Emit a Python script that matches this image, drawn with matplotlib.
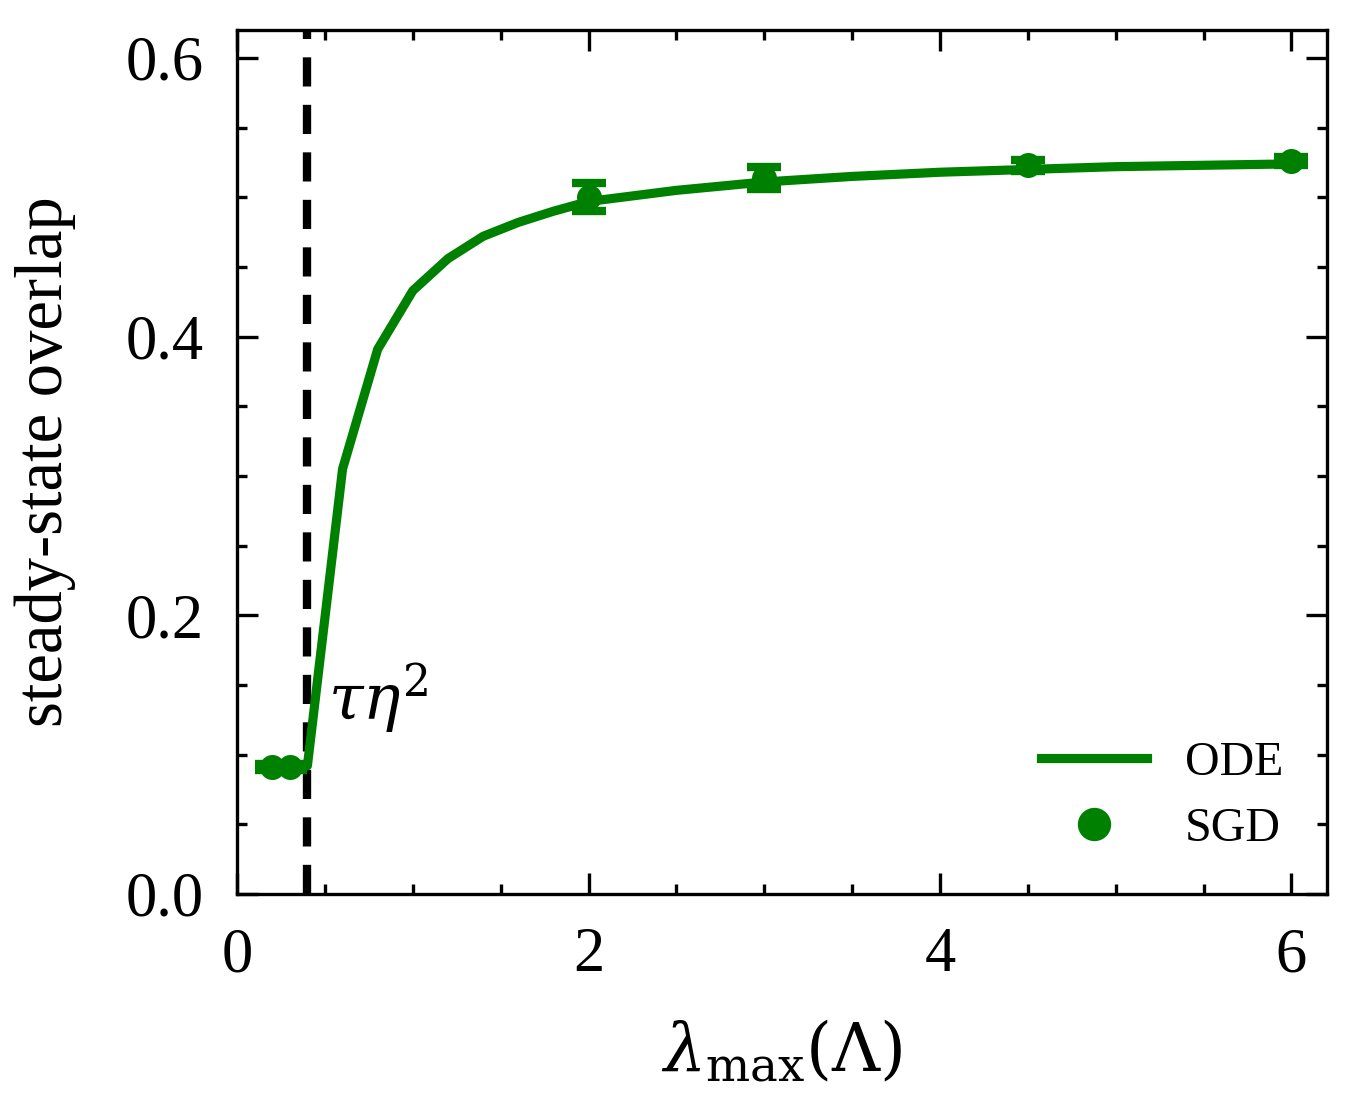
import numpy as np
import matplotlib
matplotlib.use("Agg")
import matplotlib.pyplot as plt
from matplotlib.ticker import MultipleLocator
from matplotlib.lines import Line2D

# data
ode_x = [0.2, 0.4, 0.6, 0.8, 1.0, 1.2, 1.4, 1.6, 1.8, 2.0, 2.5, 3.0, 3.5, 4.0, 4.5, 5.0, 5.5, 6.0]
ode_y = [0.091, 0.092, 0.305, 0.391, 0.433, 0.456, 0.472, 0.482, 0.490, 0.497,
         0.505, 0.511, 0.515, 0.518, 0.520, 0.522, 0.523, 0.524]

sgd_x = [0.2, 0.3, 2.0, 3.0, 4.5, 6.0]
sgd_y = [0.091, 0.091, 0.500, 0.514, 0.523, 0.526]
sgd_err = [0.002, 0.002, 0.010, 0.008, 0.004, 0.003]

threshold = 0.4

plt.rcParams["font.family"] = ["Liberation Serif", "DejaVu Serif"]
plt.rcParams["mathtext.fontset"] = "dejavuserif"

fig = plt.figure(figsize=(1355 / 300, 1116 / 300), dpi=300)
ax = fig.add_axes([0.175, 0.199, 0.804, 0.774])

ax.plot(ode_x, ode_y, color="green", lw=2.2, zorder=3)
ax.errorbar(sgd_x, sgd_y, yerr=sgd_err, fmt="o", color="green", ms=5,
            capsize=4, elinewidth=2, capthick=2, zorder=4)
ax.axvline(threshold, color="black", ls="--", lw=2, dashes=(3.5, 2.2), zorder=2)
ax.text(0.52, 0.125, r"$\tau\eta^2$", fontsize=15)

ax.set_xlim(0, 6.2)
ax.set_ylim(0, 0.62)
ax.xaxis.set_major_locator(MultipleLocator(2))
ax.xaxis.set_minor_locator(MultipleLocator(0.5))
ax.yaxis.set_major_locator(MultipleLocator(0.2))
ax.yaxis.set_minor_locator(MultipleLocator(0.05))
ax.yaxis.set_major_formatter(matplotlib.ticker.FormatStrFormatter("%.1f"))
ax.tick_params(which="both", direction="in", top=True, right=True, labelsize=15, width=0.8)
ax.tick_params(which="major", length=5, pad=8)
ax.tick_params(which="minor", length=2.5)
for s in ax.spines.values():
    s.set_linewidth(0.8)

ax.set_xlabel(r"$\lambda_{\mathrm{max}}(\Lambda)$", fontsize=16, labelpad=8)
ax.set_ylabel("steady-state overlap", fontsize=16, labelpad=12)

handles = [Line2D([], [], color="green", lw=2.2),
           Line2D([], [], color="green", marker="o", ls="none", ms=7)]
ax.legend(handles, ["ODE", "SGD"], loc="lower right", frameon=False, fontsize=11.5,
          handlelength=2.2, handletextpad=0.8, borderaxespad=0.5, labelspacing=0.45)

fig.savefig("out.png", dpi=300)
